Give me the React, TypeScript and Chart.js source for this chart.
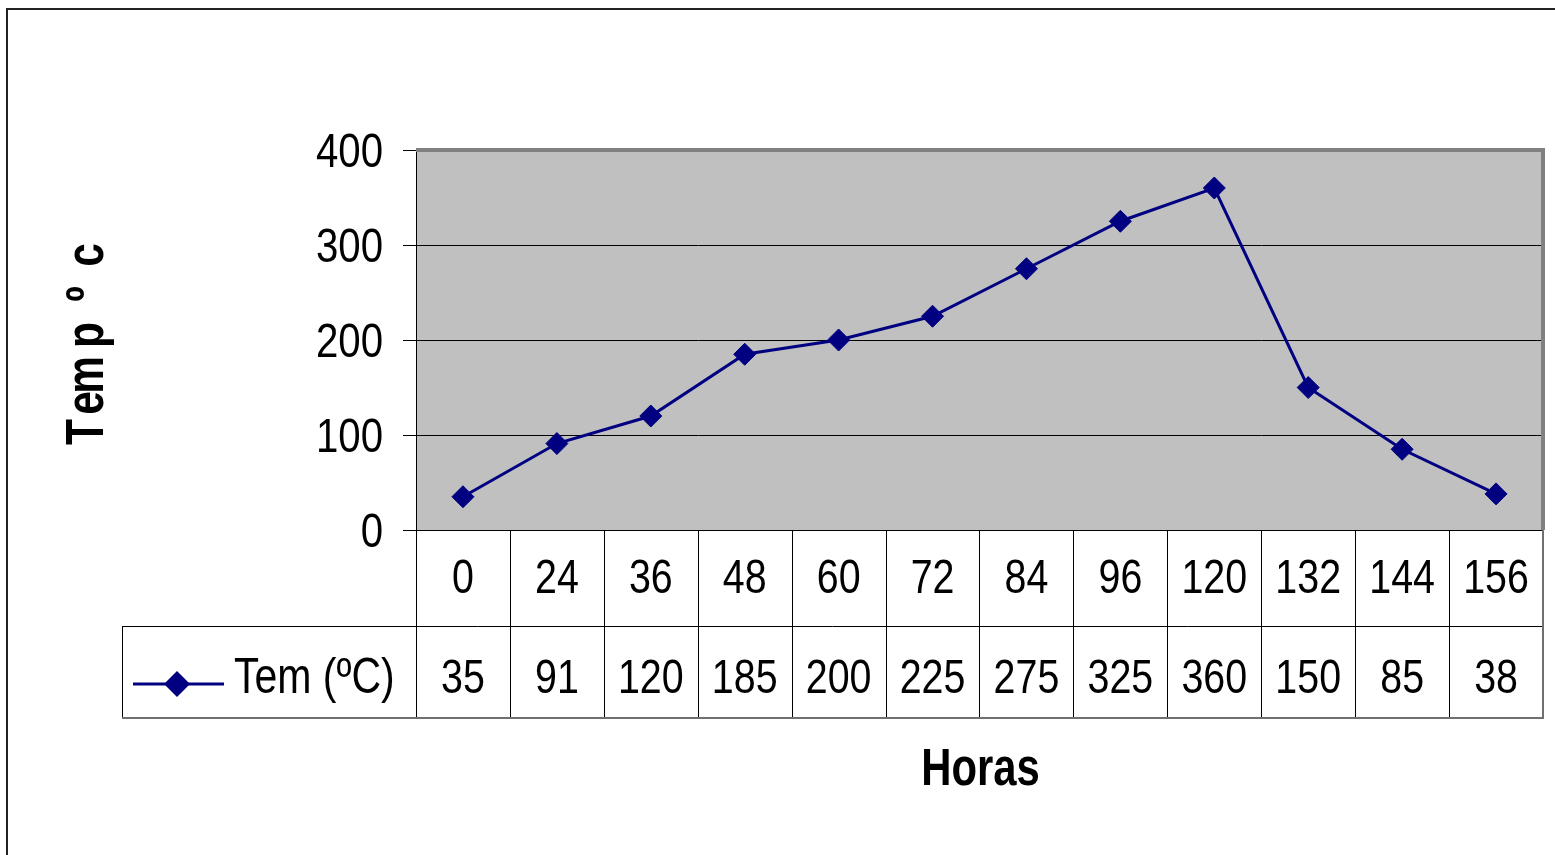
import React, { useEffect, useRef } from "react";
import { Chart, registerables } from "chart.js";

Chart.register(...registerables);

const hours = ["0", "24", "36", "48", "60", "72", "84", "96", "120", "132", "144", "156"];
const temps = [35, 91, 120, 185, 200, 225, 275, 325, 360, 150, 85, 38];
const yMin = 0;
const yMax = 400;
const yStep = 100;
const seriesLabel = "Tem (ºC)";
const yTitle = "Temp ºc";
const xTitle = "Horas";

const SANS = '"Liberation Sans", Arial, sans-serif';
const NARROW_SCALE = 0.82;
const NAVY = "#000080";

function narrowText(
  ctx: CanvasRenderingContext2D,
  text: string,
  x: number,
  y: number,
  align: CanvasTextAlign,
  font: string
) {
  ctx.save();
  ctx.font = font;
  ctx.textAlign = align;
  ctx.textBaseline = "alphabetic";
  ctx.translate(x, y);
  ctx.scale(NARROW_SCALE, 1);
  ctx.fillText(text, 0, 0);
  ctx.restore();
}

function diamond(ctx: CanvasRenderingContext2D, x: number, y: number, r: number) {
  ctx.beginPath();
  ctx.moveTo(x, y - r);
  ctx.lineTo(x + r, y);
  ctx.lineTo(x, y + r);
  ctx.lineTo(x - r, y);
  ctx.closePath();
  ctx.fill();
}

const excelPlugin = {
  id: "excelPlugin",
  beforeDraw(chart: any) {
    const { ctx, chartArea: a } = chart;
    ctx.save();
    ctx.fillStyle = "#ffffff";
    ctx.fillRect(0, 0, chart.width, chart.height);
    ctx.fillStyle = "#C0C0C0";
    ctx.fillRect(a.left, a.top, a.right - a.left, a.bottom - a.top);
    ctx.restore();
  },
  afterDraw(chart: any) {
    const { ctx, chartArea: a, scales } = chart;
    const xs = scales.x;
    const ys = scales.y;
    const n = hours.length;
    const step = xs.getPixelForValue(1) - xs.getPixelForValue(0);
    const r1Top = a.bottom;
    const r1Bot = a.bottom + 96;
    const r2Bot = r1Bot + 92;
    const legendLeft = 122;
    ctx.save();

    // outer chart frame
    ctx.strokeStyle = "#222";
    ctx.lineWidth = 2;
    ctx.strokeRect(7, 9, 1700, 1000);

    // plot area frame (gray top/right)
    ctx.strokeStyle = "#808080";
    ctx.lineWidth = 4;
    ctx.beginPath();
    ctx.moveTo(a.left, a.top);
    ctx.lineTo(a.right, a.top);
    ctx.lineTo(a.right, a.bottom);
    ctx.stroke();

    // y tick labels (narrow face)
    ctx.fillStyle = "#000";
    for (const t of ys.ticks) {
      const py = ys.getPixelForValue(t.value);
      narrowText(ctx, String(t.value), 383, py + 17, "right", `49px ${SANS}`);
    }

    // data table grid
    ctx.strokeStyle = "#000";
    ctx.lineWidth = 1;
    ctx.beginPath();
    ctx.moveTo(a.left, Math.round(r1Top) + 0.5);
    ctx.lineTo(a.right, Math.round(r1Top) + 0.5);
    ctx.moveTo(legendLeft, Math.round(r1Bot) + 0.5);
    ctx.lineTo(a.right, Math.round(r1Bot) + 0.5);
    ctx.moveTo(legendLeft + 0.5, Math.round(r1Bot));
    ctx.lineTo(legendLeft + 0.5, Math.round(r2Bot));
    for (let i = 0; i < n; i++) {
      const bx = Math.round(xs.getPixelForValue(i) - step / 2) + 0.5;
      ctx.moveTo(bx, r1Top);
      ctx.lineTo(bx, r2Bot);
    }
    ctx.stroke();
    ctx.strokeStyle = "#707070";
    ctx.lineWidth = 2;
    ctx.beginPath();
    ctx.moveTo(legendLeft, r2Bot);
    ctx.lineTo(a.right + 1, r2Bot);
    ctx.moveTo(a.right, r1Top);
    ctx.lineTo(a.right, r2Bot);
    ctx.stroke();

    // table text
    ctx.fillStyle = "#000";
    for (let i = 0; i < n; i++) {
      const cx = xs.getPixelForValue(i);
      narrowText(ctx, hours[i], cx, r1Top + 63, "center", `48px ${SANS}`);
      narrowText(ctx, String(temps[i]), cx, r1Bot + 67, "center", `48px ${SANS}`);
    }

    // legend key
    const ly = r1Bot + 58;
    ctx.strokeStyle = NAVY;
    ctx.lineWidth = 3;
    ctx.beginPath();
    ctx.moveTo(133, ly);
    ctx.lineTo(224, ly);
    ctx.stroke();
    ctx.fillStyle = NAVY;
    diamond(ctx, 177, ly, 13);
    ctx.fillStyle = "#000";
    narrowText(ctx, seriesLabel, 234, r1Bot + 67, "left", `50px ${SANS}`);

    // x axis title
    narrowText(ctx, xTitle, (a.left + a.right) / 2 + 1, 785, "center", `bold 51px ${SANS}`);

    // y axis title: spaced-out bold letters, reading bottom to top
    const centre = (a.top + a.bottom) / 2;
    const glyphs = [
      { ch: "T", d: -92 },
      { ch: "e", d: -63 },
      { ch: "m", d: -35 },
      { ch: "p", d: 5 },
      { ch: "º", d: 46 },
      { ch: "c", d: 85 },
    ];
    ctx.save();
    ctx.translate(103, centre);
    ctx.rotate(-Math.PI / 2);
    ctx.font = `bold 53px ${SANS}`;
    ctx.textAlign = "center";
    ctx.textBaseline = "alphabetic";
    for (const g of glyphs) {
      ctx.save();
      ctx.translate(g.d, 0);
      ctx.scale(0.8, 1);
      ctx.fillText(g.ch, 0, 0);
      ctx.restore();
    }
    ctx.restore();

    ctx.restore();
  },
};

export default function App() {
  const ref = useRef<HTMLCanvasElement | null>(null);
  useEffect(() => {
    if (!ref.current) return;
    const chart = new Chart(ref.current, {
      type: "line",
      data: {
        labels: hours,
        datasets: [
          {
            label: seriesLabel,
            data: temps,
            borderColor: NAVY,
            backgroundColor: NAVY,
            borderWidth: 3,
            pointStyle: "rectRot",
            pointRadius: 11,
            pointBackgroundColor: NAVY,
            pointBorderColor: NAVY,
            pointBorderWidth: 1,
            tension: 0,
          },
        ],
      },
      options: {
        responsive: false,
        animation: false,
        layout: { padding: { left: 0, top: 150, right: 12, bottom: 325 } },
        plugins: { legend: { display: false }, tooltip: { enabled: false } },
        scales: {
          x: { type: "category", display: false, offset: true },
          y: {
            min: yMin,
            max: yMax,
            title: { display: false, text: yTitle },
            afterFit: (s: any) => {
              s.width = 416;
            },
            ticks: {
              stepSize: yStep,
              color: "rgba(0,0,0,0)",
              padding: 18,
              font: { family: SANS, size: 48 },
            },
            grid: { color: "#000", lineWidth: 1, tickLength: 13, tickColor: "#000" },
            border: { display: true, color: "#000", width: 1 },
          },
        },
      },
      plugins: [excelPlugin],
    });
    return () => chart.destroy();
  }, []);
  return (
    <canvas
      ref={ref}
      width={1555}
      height={855}
      style={{ position: "absolute", left: 0, top: 0, width: 1555, height: 855 }}
    />
  );
}
